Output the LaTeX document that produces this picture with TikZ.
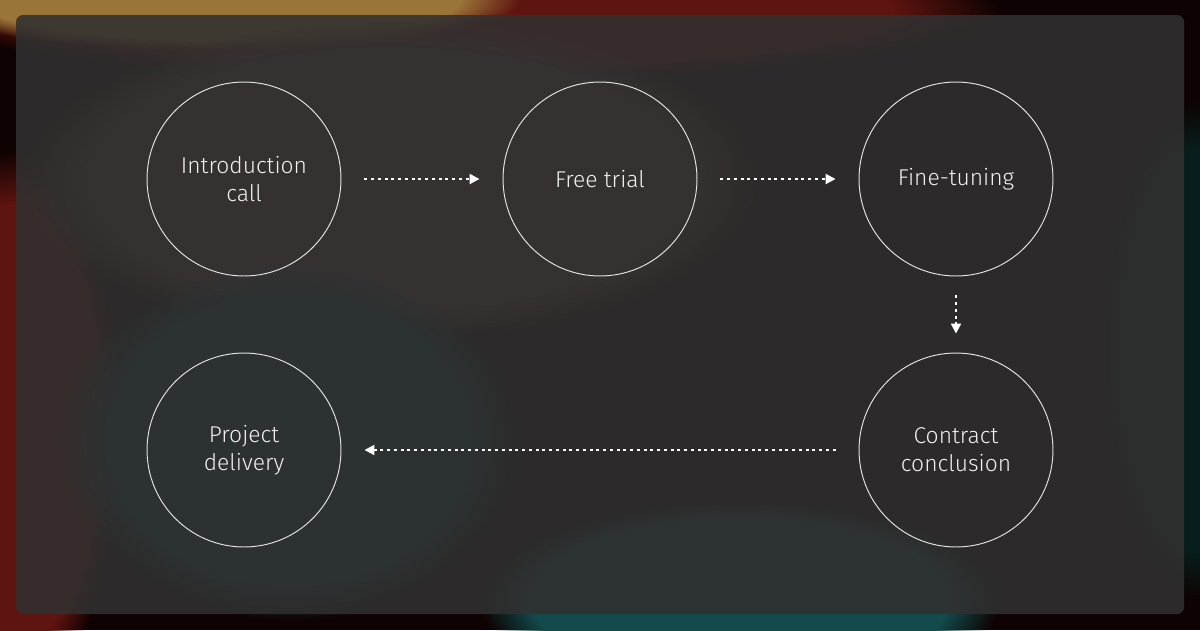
\documentclass[tikz,border=0pt]{standalone}
\usepackage{fontspec}
\setmainfont{Fira Sans}[UprightFont=* Light]
\usetikzlibrary{arrows.meta, positioning, fadings}
\definecolor{panelgray}{HTML}{313030}
\definecolor{ringgray}{HTML}{E2E2E2}
\definecolor{ochre}{HTML}{9A7438}
\definecolor{wine}{HTML}{5E1410}
\definecolor{umber}{HTML}{5A4038}
\definecolor{deepteal}{HTML}{134A4C}
\begin{document}
\begin{tikzpicture}[x=0.02cm, y=-0.02cm,
    stage/.style={circle, draw=ringgray, line width=0.55pt, minimum size=3.88cm, inner sep=0pt, align=center, text=white!94!black, font=\fontsize{13}{15.8}\selectfont},
    flow/.style={-{Triangle[length=0.2cm, width=0.2cm]}, white, line width=0.04cm, dash pattern=on 0.06cm off 0.075cm, shorten <=0.46cm, shorten >=0.46cm}]
      \useasboundingbox (0,0) rectangle (1200,630);
      % painted backdrop
      \begin{scope}
      \clip (0,0) rectangle (1200,630);
      \fill[black!85!wine] (0,0) rectangle (1200,630);
      \fill[wine, path fading=circle with fuzzy edge 20 percent] (-80,-60) rectangle (1000,80);
      \fill[ochre, path fading=circle with fuzzy edge 20 percent] (-80,-50) rectangle (520,50);
      \fill[wine, path fading=circle with fuzzy edge 20 percent] (-90,150) rectangle (120,700);
      \fill[umber, path fading=circle with fuzzy edge 20 percent] (20,20) rectangle (760,340);
      \fill[deepteal!80!black, path fading=circle with fuzzy edge 20 percent] (60,260) rectangle (520,620);
      \fill[deepteal, path fading=circle with fuzzy edge 20 percent] (480,500) rectangle (1000,700);
      \fill[deepteal!40!black, path fading=circle with fuzzy edge 20 percent] (1100,100) rectangle (1300,600);
      \end{scope}
      % translucent panel
      \fill[panelgray, fill opacity=0.88, rounded corners=4] (16,15) rectangle (1184,614);
      % stages
      \node[stage] (intro) at (244,179) {Introduction\\call};
      \node[stage] (trial) at (600,179) {Free trial};
      \node[stage] (tuning) at (956,179) {Fine-tuning};
      \node[stage] (contract) at (956,450) {Contract\\conclusion};
      \node[stage] (delivery) at (244,450) {Project\\delivery};
      % connectors
      \draw[flow] (intro) -- (trial);
      \draw[flow] (trial) -- (tuning);
      \draw[flow, shorten <=0.38cm, shorten >=0.38cm] (tuning) -- (contract);
      \draw[flow] (contract) -- (delivery);
    \end{tikzpicture}
\end{document}
